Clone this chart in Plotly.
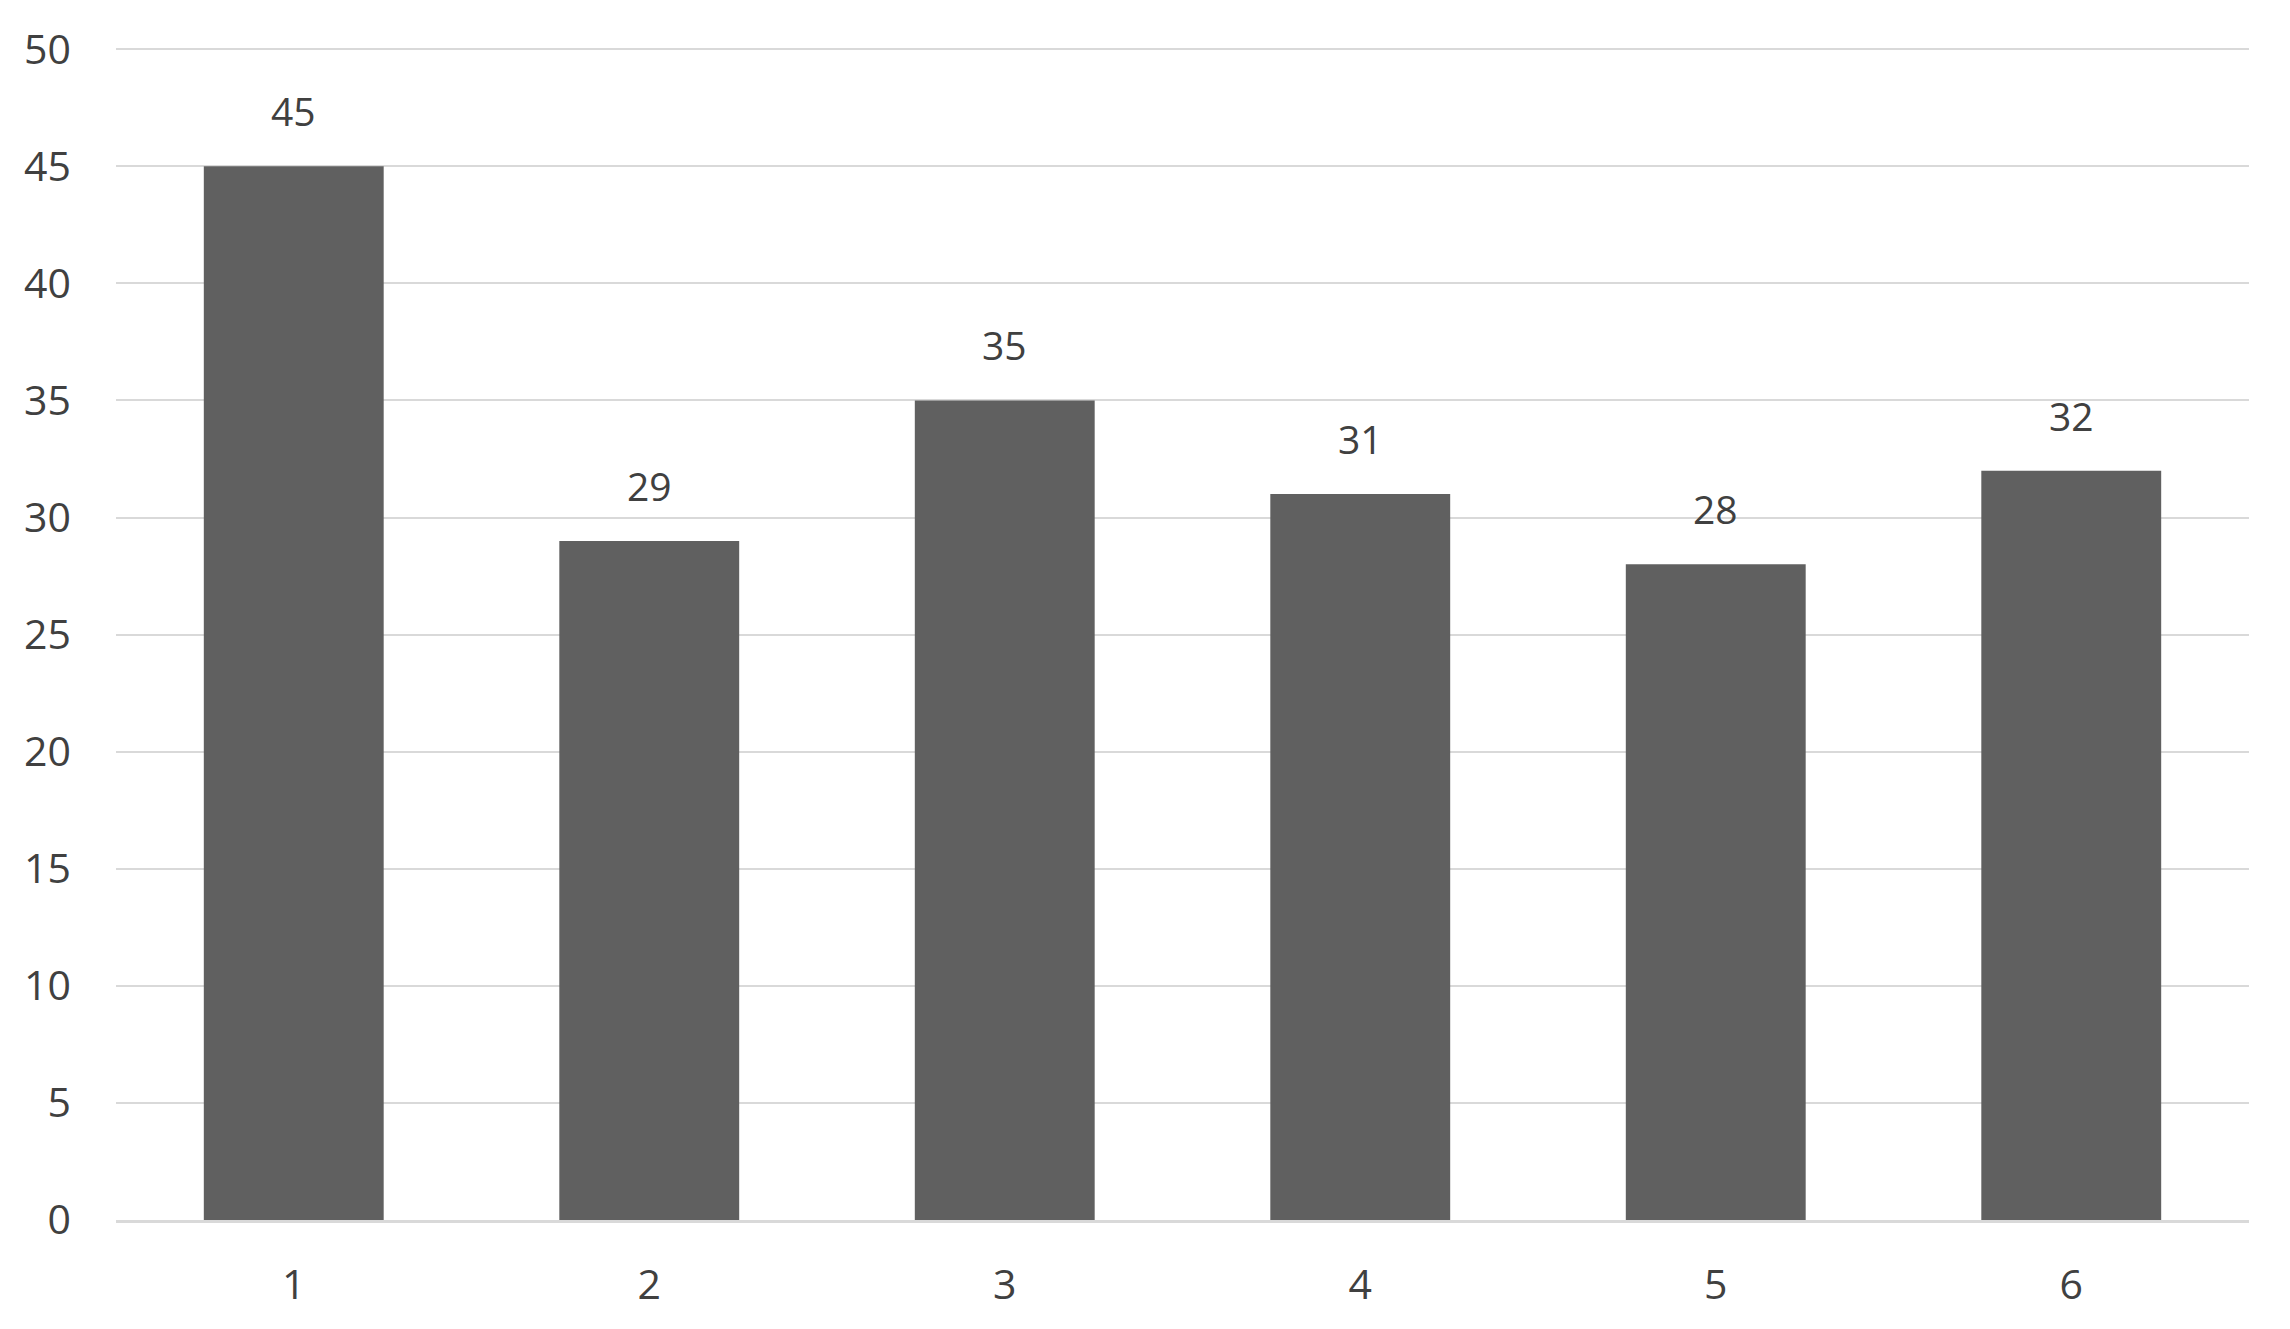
import plotly.graph_objects as go

categories = ["1", "2", "3", "4", "5", "6"]
values = [45, 29, 35, 31, 28, 32]
y_ticks = [0, 5, 10, 15, 20, 25, 30, 35, 40, 45, 50]

text_color = "#404040"
font_name = "Open Sans"

fig = go.Figure()
fig.add_trace(go.Bar(
    x=categories,
    y=values,
    marker=dict(color="#606060", line=dict(width=0)),
    hoverinfo="x+y",
))

# value labels sitting above each bar (x given as category index)
for i, val in enumerate(values):
    fig.add_annotation(
        x=i, y=val, text=str(val),
        showarrow=False, yanchor="bottom", yshift=27,
        font=dict(size=39, color=text_color, family=font_name),
    )

# page body adds an 8px margin, so the figure is a bit smaller than the window
fig.update_layout(
    width=2282,
    height=1321,
    margin=dict(l=108, r=41, t=37, b=109),
    paper_bgcolor="white",
    plot_bgcolor="white",
    bargap=0.494,
    showlegend=False,
    font=dict(family=font_name, color=text_color),
    xaxis=dict(
        type="category",
        range=[-0.5, len(categories) - 0.5],
        showgrid=False,
        showline=True,
        linecolor="#d9d9d9",
        linewidth=3,
        ticks="",
        ticklabelstandoff=27,
        tickfont=dict(size=41, color=text_color),
    ),
    yaxis=dict(
        range=[0, 50.18],
        tickvals=y_ticks,
        showgrid=True,
        gridcolor="#d9d9d9",
        gridwidth=2,
        zeroline=False,
        showline=False,
        ticks="",
        ticklabelstandoff=44,
        tickfont=dict(size=41, color=text_color),
    ),
)

fig.write_html("out.html")
